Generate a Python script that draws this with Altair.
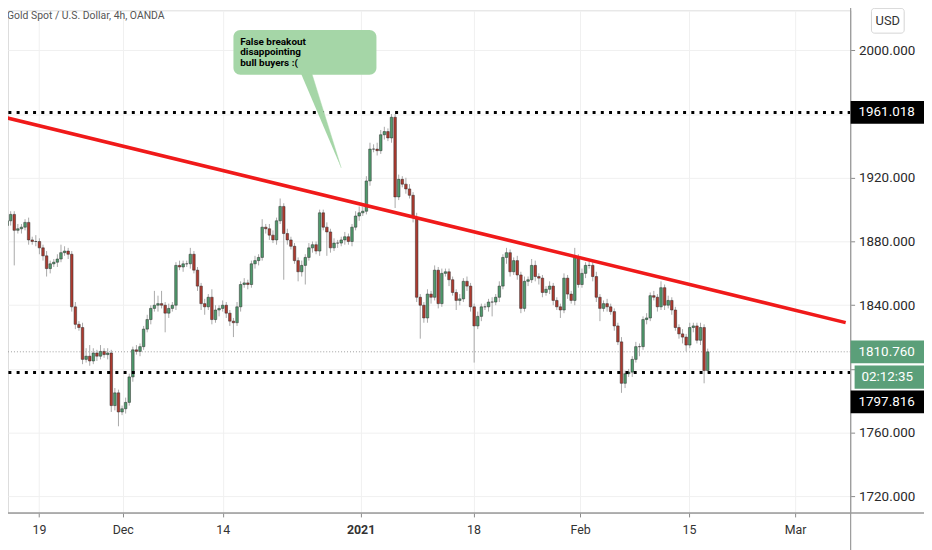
import altair as alt
import pandas as pd

# ---------------- data ----------------
title_text = "Gold Spot / U.S. Dollar, 4h, OANDA"
first_open = 1890.0
closes = [
    1893, 1897, 1887, 1888, 1889, 1892, 1881, 1880, 1880, 1876,
    1871, 1863, 1866, 1867, 1869, 1873, 1874, 1872, 1839, 1828,
    1826, 1806, 1808, 1805, 1810, 1808, 1811, 1809, 1810, 1777,
    1785, 1773, 1775, 1779, 1795, 1812, 1811, 1814, 1825, 1831,
    1838, 1840, 1841, 1840, 1835, 1838, 1840, 1865, 1864, 1866,
    1866, 1872, 1862, 1852, 1841, 1839, 1845, 1831, 1837, 1838,
    1840, 1835, 1830, 1829, 1839, 1853, 1854, 1853, 1866, 1868,
    1870, 1889, 1888, 1884, 1881, 1893, 1902, 1885, 1881, 1877,
    1868, 1861, 1865, 1870, 1876, 1878, 1874, 1898, 1889, 1886,
    1876, 1879, 1879, 1881, 1883, 1880, 1889, 1896, 1898, 1899,
    1918, 1938, 1938, 1937, 1947, 1949, 1945, 1958, 1908, 1919,
    1916, 1913, 1909, 1895, 1845, 1840, 1832, 1847, 1845, 1862,
    1841, 1860, 1861, 1856, 1848, 1843, 1844, 1855, 1852, 1839,
    1827, 1833, 1839, 1839, 1842, 1842, 1845, 1852, 1870, 1873,
    1861, 1868, 1859, 1838, 1855, 1856, 1865, 1858, 1857, 1848,
    1850, 1852, 1843, 1839, 1837, 1857, 1847, 1843, 1870, 1853,
    1860, 1865, 1865, 1858, 1845, 1838, 1841, 1839, 1836, 1827,
    1817, 1791, 1797, 1798, 1806, 1814, 1814, 1831, 1832, 1846,
    1845, 1839, 1851, 1840, 1843, 1837, 1826, 1822, 1820, 1815,
    1826, 1827, 1818, 1826, 1799, 1810.76,
]
upper_wick = [
    3, 2, 2, 3, 2, 2, 3, 2, 4, 2,
    2, 3, 2, 2, 3, 5, 3, 2, 2, 3,
    2, 3, 5, 7, 3, 2, 4, 2, 3, 2,
    3, 2, 2, 3, 2, 2, 3, 2, 2, 3,
    2, 9, 5, 8, 2, 3, 2, 2, 3, 2,
    2, 4, 2, 2, 2, 3, 2, 5, 3, 2,
    3, 2, 2, 2, 3, 2, 3, 2, 2, 3,
    2, 5, 2, 3, 3, 2, 5, 2, 3, 2,
    2, 2, 3, 2, 3, 2, 2, 2, 2, 3,
    2, 3, 2, 2, 3, 2, 2, 3, 4, 3,
    3, 4, 3, 4, 3, 3, 2, 2, 2, 3,
    2, 4, 3, 2, 3, 2, 2, 3, 2, 3,
    2, 3, 2, 2, 2, 2, 3, 2, 3, 2,
    2, 3, 2, 2, 2, 3, 2, 3, 2, 3,
    2, 2, 3, 2, 3, 2, 4, 3, 2, 2,
    2, 3, 2, 2, 2, 3, 2, 2, 6, 2,
    3, 2, 4, 2, 3, 2, 2, 3, 2, 2,
    2, 3, 2, 2, 2, 3, 2, 2, 3, 2,
    3, 2, 4, 2, 3, 2, 2, 2, 3, 2,
    3, 2, 2, 3, 2, 2,
]
lower_wick = [
    2, 3, 22, 2, 3, 2, 3, 2, 3, 4,
    3, 5, 3, 2, 3, 2, 2, 3, 3, 3,
    2, 3, 2, 3, 2, 3, 2, 2, 3, 4,
    3, 9, 2, 3, 2, 3, 2, 3, 2, 2,
    3, 2, 4, 2, 12, 3, 2, 3, 2, 3,
    2, 3, 2, 3, 4, 5, 2, 3, 2, 4,
    2, 3, 3, 9, 2, 3, 2, 3, 2, 3,
    3, 2, 3, 3, 2, 3, 2, 29, 3, 2,
    2, 6, 3, 12, 2, 3, 2, 3, 2, 15,
    3, 2, 3, 2, 3, 2, 3, 2, 3, 2,
    2, 3, 2, 3, 2, 3, 2, 3, 7, 2,
    2, 3, 2, 3, 3, 21, 3, 3, 4, 2,
    3, 2, 2, 4, 2, 6, 3, 2, 3, 3,
    23, 2, 3, 2, 3, 9, 2, 3, 2, 4,
    3, 2, 3, 3, 2, 3, 2, 3, 4, 3,
    2, 3, 3, 2, 5, 2, 3, 2, 3, 2,
    2, 3, 2, 3, 3, 8, 2, 3, 2, 3,
    2, 6, 3, 2, 3, 2, 6, 2, 3, 2,
    2, 3, 2, 3, 2, 3, 2, 3, 4, 4,
    2, 3, 2, 3, 8, 2,
]
date_labels = ["19", "Dec", "14", "2021", "18", "Feb", "15", "Mar"]
date_index = [8.9, 32.2, 60.0, 98.4, 129.8, 159.5, 189.8, 219.3]
price_ticks = [1720, 1760, 1800, 1840, 1880, 1920, 1960, 2000]
hidden_ticks = [1800, 1960]          # covered by price tags in the original
levels = [1961.018, 1797.816]
last_price = 1810.76
countdown = "02:12:35"
trend_i = [-0.55, 233.4]
trend_p = [1957.9, 1829.1]
callout_lines = "False breakout\ndisappointing\nbull buyers :("
callout_box_i = [63.0, 102.8]
callout_box_p = [2012.7, 1984.7]
tail_i = [81.8, 84.8, 93.0]
tail_p = [1985.5, 1985.5, 1926.2]
text_anchor = [64.9, 2003.6]

# ---------------- tables ----------------
candles = pd.DataFrame({"close": closes, "uw": upper_wick, "lw": lower_wick})
candles["i"] = range(len(candles))
candles["open"] = [first_open] + closes[:-1]
candles["high"] = candles[["open", "close"]].max(axis=1) + candles["uw"]
candles["low"] = candles[["open", "close"]].min(axis=1) - candles["lw"]

W, H = 850, 507
GREEN = "#4f9a6c"
RED = "#ad3a2f"
TAG_GREEN = "#5b9f79"
FONT = "Roboto"

SX = alt.Scale(domain=[1.636, 233.4], nice=False, zero=False)
SY = alt.Scale(domain=[1709.6, 2025.1], nice=False, zero=False)

label_expr = "[" + ",".join("'%s'" % s for s in date_labels) + "][indexof([" + \
    ",".join(str(v) for v in date_index) + "], datum.value)]"
ylabel_expr = "indexof([" + ",".join(str(v) for v in hidden_ticks) + \
    "], datum.value) >= 0 ? '' : format(datum.value, '.3f')"

AXX = alt.Axis(values=date_index, labelExpr=label_expr, grid=True, gridColor="#f0f0f0",
               domain=False, ticks=True, tickColor="#8a8a8a", tickSize=4,
               labelFont=FONT, labelFontSize=12.5, labelColor="#333333", labelPadding=7,
               title=None,
               labelFontWeight=alt.condition("datum.value == 98.4", alt.value("bold"), alt.value("normal")))
AXY = alt.Axis(orient="right", values=price_ticks, labelExpr=ylabel_expr, grid=True,
               gridColor="#f0f0f0", domain=False, ticks=True, tickColor="#8a8a8a", tickSize=4,
               labelPadding=4, labelFont=FONT, labelFontSize=13.5, labelColor="#2a2a2a", title=None)


def X(f):
    return alt.X(f, type="quantitative", scale=SX, axis=AXX)


def Y(f):
    return alt.Y(f, type="quantitative", scale=SY, axis=AXY)


one = pd.DataFrame({"a": [0]})

lev_df = pd.DataFrame({"p": levels})
dotted = alt.Chart(lev_df).mark_rule(color="black", strokeWidth=3, strokeDash=[3, 5.3]).encode(y=Y("p"))

cur_df = pd.DataFrame({"p": [last_price]})
cur_line = alt.Chart(cur_df).mark_rule(color="#9e9e9e", strokeWidth=1, strokeDash=[1, 2]).encode(y=Y("p"))

wicks = alt.Chart(candles).mark_rule(color="#a9a9a9", strokeWidth=1, clip=True).encode(
    x=X("i"), y=Y("low"), y2=alt.Y2("high"))

bodies = alt.Chart(candles).mark_bar(size=2.6, stroke="#2b2b2b", strokeWidth=0.5, clip=True).encode(
    x=X("i"), y=Y("open"), y2=alt.Y2("close"),
    color=alt.condition("datum.close >= datum.open", alt.value(GREEN), alt.value(RED)))

trend_df = pd.DataFrame({"ti": trend_i, "tp": trend_p})
trend = alt.Chart(trend_df).mark_line(color="#f01a1a", strokeWidth=3.5, clip=True).encode(
    x=X("ti"), y=Y("tp"))

box_df = pd.DataFrame({"x0": [callout_box_i[0]], "x1": [callout_box_i[1]],
                       "y0": [callout_box_p[0]], "y1": [callout_box_p[1]]})
callout_box = alt.Chart(box_df).mark_rect(cornerRadius=7, color="#a5d6a7", opacity=1).encode(
    x=X("x0"), x2=alt.X2("x1"), y=Y("y0"), y2=alt.Y2("y1"))

tail_df = pd.DataFrame({"ti": tail_i, "tp": tail_p, "o": [0, 1, 2]})
callout_tail = alt.Chart(tail_df).mark_line(fill="#a5d6a7", stroke="#a5d6a7", strokeWidth=0.5).encode(
    x=X("ti"), y=Y("tp"), order="o:Q")

txt_df = pd.DataFrame({"ti": [text_anchor[0]], "tp": [text_anchor[1]], "t": [callout_lines]})
callout_text = alt.Chart(txt_df).mark_text(align="left", baseline="alphabetic", lineBreak="\n",
                                           lineHeight=10.6, font=FONT, fontSize=10,
                                           fontWeight="bold", color="black").encode(
    x=X("ti"), y=Y("tp"), text="t:N")

title = alt.Chart(pd.DataFrame({"t": [title_text]})).mark_text(
    align="left", baseline="middle", font=FONT, fontSize=10.5, color="#555555").encode(
    x=alt.value(-1), y=alt.value(6), text="t:N")

# price tags on the right axis
tag_df = pd.DataFrame({"p": [levels[0], last_price], "c": ["black", TAG_GREEN],
                       "t": ["%.3f" % levels[0], "%.3f" % last_price]})
tags = alt.Chart(tag_df).mark_tick(orient="horizontal", thickness=23, size=74, opacity=1).encode(
    x=alt.value(887), y=Y("p"), color=alt.Color("c:N", scale=None))
tag_txt = alt.Chart(tag_df).mark_text(align="left", baseline="middle", font=FONT, fontSize=13.5,
                                      color="white").encode(x=alt.value(858), y=Y("p"), text="t:N")

cd_df = pd.DataFrame({"p": [last_price], "t": [countdown]})
cd_tag = alt.Chart(cd_df).mark_tick(orient="horizontal", thickness=23.5, size=70, opacity=1,
                                    color=TAG_GREEN, yOffset=25.5).encode(x=alt.value(889), y=Y("p"))
cd_txt = alt.Chart(cd_df).mark_text(align="left", baseline="middle", font=FONT, fontSize=13.5,
                                    color="white", yOffset=25.5).encode(x=alt.value(861), y=Y("p"), text="t:N")

lo_df = pd.DataFrame({"p": [levels[1]], "t": ["%.3f" % levels[1]]})
lo_tag = alt.Chart(lo_df).mark_tick(orient="horizontal", thickness=23, size=74, opacity=1,
                                    color="black", yOffset=29.8).encode(x=alt.value(887), y=Y("p"))
lo_txt = alt.Chart(lo_df).mark_text(align="left", baseline="middle", font=FONT, fontSize=13.5,
                                    color="white", yOffset=29.8).encode(x=alt.value(858), y=Y("p"), text="t:N")

usd_box = alt.Chart(one).mark_rect(fill="white", stroke="#d4d4d4", strokeWidth=1, cornerRadius=3).encode(
    x=alt.value(871), x2=alt.value(904), y=alt.value(-2), y2=alt.value(23))
usd_txt = alt.Chart(pd.DataFrame({"t": ["USD"]})).mark_text(
    align="center", baseline="middle", font=FONT, fontSize=13, color="#333333").encode(
    x=alt.value(887.5), y=alt.value(10.5), text="t:N")

vline = alt.Chart(one).mark_rule(color="#9a9a9a", strokeWidth=1.2).encode(
    x=alt.value(850), y=alt.value(-8), y2=alt.value(545))
hline = alt.Chart(one).mark_rule(color="#9a9a9a", strokeWidth=1.5).encode(
    x=alt.value(-8), x2=alt.value(924), y=alt.value(507))

chart = alt.layer(
    cur_line, wicks, bodies, dotted, trend, callout_tail, callout_box, callout_text, title,
    vline, hline, tags, tag_txt, cd_tag, cd_txt, lo_tag, lo_txt, usd_box, usd_txt,
).properties(
    width=W, height=H,
    autosize=alt.AutoSizeParams(type="none"),
    padding={"left": 0, "top": 0, "right": 74, "bottom": 35},
).configure_view(stroke=None).configure(background="white")

chart.save("out.html", embed_options={"renderer": "svg", "actions": False})
